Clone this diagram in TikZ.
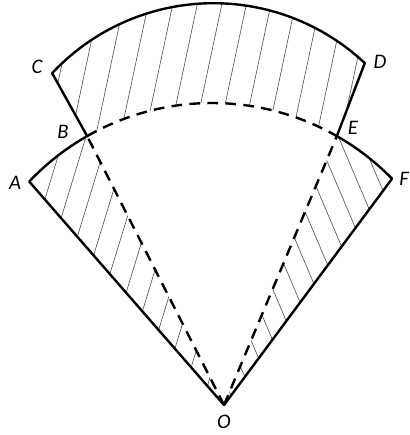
\documentclass[tikz,border=0pt]{standalone}
\usepackage{fontspec}
\setmainfont{Carlito}
\usetikzlibrary{calc}
\tikzset{
  edge/.style={line width=1.8pt, line cap=round, line join=round},
  hidden/.style={line width=1.8pt, dash pattern=on 8pt off 5.5pt},
  hatch/.style={line width=0.45pt, black!70},
  lbl/.style={font=\fontsize{15.5}{18}\selectfont\itshape, inner sep=0pt}
}
\begin{document}
\begin{tikzpicture}[x=0.75pt,y=0.75pt]
\useasboundingbox (0,0) rectangle (410,-435);
\coordinate (O) at (224,-405);
\coordinate (Ci) at (212,-355);
\coordinate (Co) at (213.5,-224.2);
\coordinate (A) at ($(Ci)+(136.5:252)$);
\coordinate (B) at ($(Ci)+(119.7:252)$);
\coordinate (E) at ($(Ci)+(60.3:252)$);
\coordinate (F) at ($(Ci)+(44.4:252)$);
\coordinate (C) at ($(Co)+(136.9:221)$);
\coordinate (D) at ($(Co)+(46.8:221)$);
% hatching, left lower sector
\begin{scope}
  \clip (O) -- (A) arc[start angle=136.5,end angle=119.7,radius=252] -- cycle;
  \foreach \k in {-20,...,20}
    \draw[hatch, shift={(130,-280)}, rotate=73] (-400,\k*21) -- (400,\k*21);
\end{scope}
% hatching, right lower sector
\begin{scope}
  \clip (O) -- (E) arc[start angle=60.3,end angle=44.4,radius=252] -- cycle;
  \foreach \k in {-20,...,20}
    \draw[hatch, shift={(330,-250)}, rotate=113] (-400,\k*20+8) -- (400,\k*20+8);
\end{scope}
% hatching, upper band
\begin{scope}
  \clip (B) -- (C) arc[start angle=136.9,end angle=46.8,radius=221] -- (E)
        arc[start angle=60.3,end angle=119.7,radius=252] -- cycle;
  \foreach \k in {-20,...,20}
    \draw[hatch, shift={(210,-60)}, rotate=78] (-400,\k*24) -- (400,\k*24);
\end{scope}
% outlines
\draw[edge] (O) -- (A) arc[start angle=136.5,end angle=119.7,radius=252];
\draw[edge] (E) arc[start angle=60.3,end angle=44.4,radius=252] -- (O);
\draw[edge] (B) -- (C) arc[start angle=136.9,end angle=46.8,radius=221] -- (E);
\draw[hidden] (B) arc[start angle=119.7,end angle=60.3,radius=252];
\draw[hidden] (O) -- (B);
\draw[hidden] (O) -- (E);
% labels
\node[lbl] (lA) at (15,-183) {A};
\node[lbl] (lB) at (63,-132) {B};
\node[lbl] (lC) at (37,-67) {C};
\node[lbl] (lD) at (380,-62) {D};
\node[lbl] (lE) at (353,-128) {E};
\node[lbl] (lF) at (404,-179) {F};
\node[lbl] (lO) at (224,-422) {O};
\end{tikzpicture}
\end{document}
